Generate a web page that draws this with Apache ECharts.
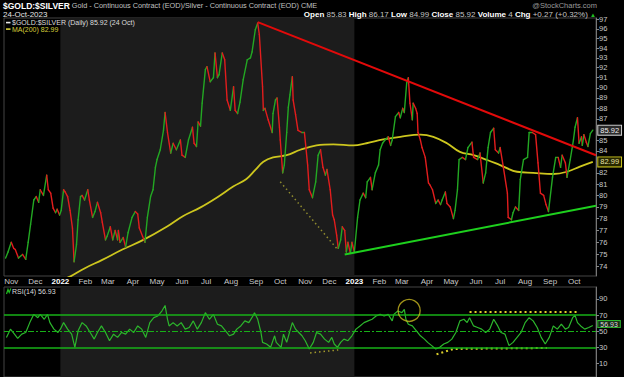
<!DOCTYPE html>
<html>
<head>
<meta charset="utf-8">
<script src="https://cdn.jsdelivr.net/npm/echarts@6/dist/echarts.min.js"></script>
<style>
html,body{margin:0;padding:0;background:#000;}
#c{width:624px;height:377px;}
</style>
</head>
<body>
<div id="c"></div>
<script>
// ---------- DATA ----------
const priceSeries = [
['2021-10-25',74.7],['2021-10-28',75.2],['2021-11-01',76.0],['2021-11-04',75.5],['2021-11-06',75.4],['2021-11-10',74.7],['2021-11-15',75.0],['2021-11-19',74.6],['2021-11-22',76.0],['2021-11-25',77.5],['2021-11-29',79.6],['2021-12-02',79.9],['2021-12-05',79.4],['2021-12-07',80.5],['2021-12-11',80.0],['2021-12-15',81.8],['2021-12-17',80.5],['2021-12-20',80.2],['2021-12-23',78.9],['2021-12-26',78.5],['2021-12-28',78.8],['2021-12-31',78.3],
['2022-01-02',78.7],['2022-01-05',80.5],['2022-01-07',80.3],['2022-01-10',79.9],['2022-01-13',78.7],['2022-01-16',77.2],['2022-01-18',74.4],['2022-01-21',75.8],['2022-01-23',77.9],['2022-01-26',79.9],['2022-01-28',80.0],['2022-01-31',79.6],['2022-02-04',80.5],['2022-02-06',79.6],['2022-02-10',78.1],['2022-02-13',78.6],['2022-02-16',79.4],['2022-02-20',78.5],['2022-02-22',77.7],['2022-02-26',76.2],['2022-02-28',76.5],['2022-03-04',77.3],['2022-03-07',76.2],['2022-03-10',77.0],['2022-03-13',76.2],['2022-03-14',77.0],['2022-03-16',76.0],['2022-03-20',76.4],['2022-03-23',75.6],['2022-03-26',76.8],['2022-03-31',78.1],['2022-04-04',78.6],['2022-04-07',78.4],['2022-04-09',77.2],['2022-04-13',76.5],['2022-04-16',76.0],['2022-04-19',78.1],['2022-04-23',79.9],['2022-04-26',80.5],['2022-04-29',82.5],['2022-05-01',83.2],['2022-05-05',84.1],['2022-05-09',85.9],['2022-05-11',87.6],['2022-05-14',85.7],['2022-05-18',83.8],['2022-05-21',84.7],['2022-05-25',84.1],['2022-05-30',85.0],['2022-06-01',83.6],['2022-06-05',83.4],['2022-06-09',85.0],['2022-06-14',86.2],['2022-06-16',84.7],['2022-06-19',84.4],['2022-06-21',86.7],['2022-06-24',86.3],['2022-06-26',88.5],['2022-06-30',91.8],['2022-07-02',92.1],['2022-07-06',90.6],['2022-07-10',91.0],['2022-07-12',93.5],['2022-07-15',91.0],['2022-07-17',91.3],['2022-07-21',93.5],['2022-07-24',92.8],['2022-07-27',88.8],['2022-07-31',87.8],['2022-08-04',90.1],['2022-08-06',87.8],['2022-08-09',87.5],['2022-08-12',88.6],['2022-08-16',90.8],['2022-08-21',92.8],['2022-08-25',93.0],['2022-08-27',93.6],['2022-08-31',95.9],['2022-09-03',96.6],['2022-09-05',95.4],['2022-09-09',90.1],['2022-09-10',87.8],['2022-09-12',88.0],['2022-09-16',86.9],['2022-09-21',85.7],['2022-09-22',87.5],['2022-09-25',88.8],['2022-09-27',89.0],['2022-09-30',86.2],['2022-10-01',85.0],['2022-10-04',82.0],['2022-10-06',82.7],['2022-10-09',85.7],['2022-10-11',88.1],['2022-10-13',89.3],['2022-10-16',91.1],['2022-10-17',88.8],['2022-10-20',87.4],['2022-10-23',85.9],['2022-10-28',85.7],['2022-10-31',85.7],['2022-11-04',82.7],['2022-11-06',80.5],['2022-11-10',79.8],['2022-11-14',81.2],['2022-11-17',83.6],['2022-11-20',84.1],['2022-11-23',82.5],['2022-11-26',81.8],['2022-11-28',82.3],['2022-12-02',80.5],['2022-12-05',78.3],['2022-12-07',77.9],['2022-12-10',76.6],['2022-12-12',75.5],['2022-12-15',76.2],['2022-12-17',77.3],['2022-12-20',77.0],['2022-12-22',75.2],['2022-12-24',76.0],['2022-12-27',75.1],['2022-12-29',76.0],
['2023-01-01',75.2],['2023-01-05',78.1],['2023-01-08',79.6],['2023-01-12',80.2],['2023-01-15',79.8],['2023-01-17',81.2],['2023-01-21',81.6],['2023-01-23',80.5],['2023-01-27',82.0],['2023-01-31',82.7],['2023-02-02',84.1],['2023-02-05',84.7],['2023-02-08',85.0],['2023-02-12',85.3],['2023-02-15',84.5],['2023-02-17',85.0],['2023-02-21',87.2],['2023-02-25',87.6],['2023-02-27',87.1],['2023-03-02',88.0],['2023-03-04',87.6],['2023-03-07',90.5],['2023-03-09',91.0],['2023-03-11',88.5],['2023-03-14',86.9],['2023-03-15',88.5],['2023-03-18',88.0],['2023-03-20',87.5],['2023-03-21',85.7],['2023-03-24',85.0],['2023-03-26',84.3],['2023-03-30',83.4],['2023-04-03',81.1],['2023-04-05',80.9],['2023-04-08',80.5],['2023-04-12',79.3],['2023-04-15',79.6],['2023-04-18',79.2],['2023-04-20',79.6],['2023-04-24',80.3],['2023-04-26',79.3],['2023-04-30',79.0],['2023-05-04',78.0],['2023-05-06',78.7],['2023-05-09',80.5],['2023-05-11',83.2],['2023-05-15',83.4],['2023-05-19',83.2],['2023-05-22',84.3],['2023-05-27',84.8],['2023-05-29',83.4],['2023-06-03',83.2],['2023-06-06',83.8],['2023-06-10',81.1],['2023-06-13',82.0],['2023-06-16',84.3],['2023-06-19',85.7],['2023-06-23',86.1],['2023-06-25',84.1],['2023-06-29',83.8],['2023-07-01',84.3],['2023-07-05',82.5],['2023-07-10',80.2],['2023-07-11',78.1],['2023-07-15',77.9],['2023-07-17',78.5],['2023-07-20',79.0],['2023-07-24',78.7],['2023-07-26',81.4],['2023-07-30',83.2],['2023-08-04',83.4],['2023-08-06',85.7],['2023-08-10',85.7],['2023-08-14',85.5],['2023-08-17',82.9],['2023-08-20',80.2],['2023-08-24',80.0],['2023-08-27',79.2],['2023-08-30',78.6],['2023-09-04',81.6],['2023-09-08',83.4],['2023-09-11',83.4],['2023-09-14',82.5],['2023-09-16',83.6],['2023-09-20',82.9],['2023-09-22',81.6],['2023-09-26',83.2],['2023-09-30',85.0],['2023-10-02',86.2],['2023-10-05',87.1],['2023-10-07',84.7],['2023-10-10',85.3],['2023-10-11',84.5],['2023-10-13',85.5],['2023-10-16',84.8],['2023-10-18',84.4],['2023-10-21',85.6],['2023-10-24',85.92]
];

const ma200Series = [
['2021-12-20',72.4],['2022-01-01',72.9],['2022-01-13',73.2],['2022-02-01',73.9],['2022-02-22',74.55],['2022-03-19',75.4],['2022-04-14',76.2],['2022-05-13',77.3],['2022-06-02',78.2],['2022-06-24',78.96],['2022-07-14',79.8],['2022-08-04',80.8],['2022-08-20',81.45],['2022-08-31',82.26],['2022-09-10',83.0],['2022-09-22',83.4],['2022-10-09',83.6],['2022-10-26',84.1],['2022-11-15',84.5],['2022-12-06',84.6],['2022-12-31',84.5],['2023-01-16',84.7],['2023-02-06',85.05],['2023-02-27',85.3],['2023-03-24',85.5],['2023-04-09',85.3],['2023-04-26',84.7],['2023-05-12',83.9],['2023-05-29',83.6],['2023-06-15',83.16],['2023-07-01',82.7],['2023-07-22',82.1],['2023-08-11',82.0],['2023-09-05',81.9],['2023-09-22',82.1],['2023-10-08',82.56],['2023-10-24',82.99]
];

const rsiSeries = [
['2021-10-26',42.3],['2021-10-31',52.5],['2021-11-05',46.3],['2021-11-09',41],['2021-11-14',46.3],['2021-11-19',48.4],['2021-11-24',60.6],['2021-11-29',70.8],['2021-12-04',66.7],['2021-12-07',70.8],['2021-12-12',64.7],['2021-12-16',70.8],['2021-12-19',60.6],['2021-12-24',52.5],['2021-12-29',48.4],
['2022-01-01',52.5],['2022-01-05',60.6],['2022-01-10',52.5],['2022-01-15',46.3],['2022-01-19',30],['2022-01-23',50.4],['2022-01-28',60.6],['2022-02-02',56.5],['2022-02-07',48.4],['2022-02-12',40.2],['2022-02-16',48.4],['2022-02-21',56.5],['2022-02-26',48.4],['2022-03-03',38.2],['2022-03-08',46.3],['2022-03-13',42.3],['2022-03-18',48.4],['2022-03-23',46.3],['2022-03-28',52.5],['2022-04-02',48.4],['2022-04-07',56.5],['2022-04-12',52.5],['2022-04-17',42.3],['2022-04-22',60.6],['2022-04-27',66.7],['2022-05-02',68.8],['2022-05-07',74.9],['2022-05-11',81.8],['2022-05-14',64.7],['2022-05-16',56.5],['2022-05-21',60.6],['2022-05-26',56.5],['2022-05-31',60.6],['2022-06-05',52.5],['2022-06-10',54.5],['2022-06-15',62.7],['2022-06-20',52.5],['2022-06-25',60.6],['2022-06-30',72.9],['2022-07-05',64.7],['2022-07-10',70.8],['2022-07-15',58.6],['2022-07-20',56.5],['2022-07-25',50.4],['2022-07-30',44.3],['2022-08-04',46.3],['2022-08-08',52.5],['2022-08-13',56.5],['2022-08-18',62.7],['2022-08-23',60.6],['2022-08-28',68.8],['2022-08-30',72.9],['2022-09-03',64.7],['2022-09-07',48.4],['2022-09-09',36.1],['2022-09-14',34.1],['2022-09-19',30],['2022-09-24',44.3],['2022-09-26',36.1],['2022-10-02',30],['2022-10-05',46.3],['2022-10-09',36.1],['2022-10-13',50.4],['2022-10-16',60.6],['2022-10-20',52.5],['2022-10-24',48.4],['2022-10-28',44.3],['2022-11-01',38.2],['2022-11-06',28],['2022-11-11',36.1],['2022-11-15',48.4],['2022-11-20',46.3],['2022-11-25',40.2],['2022-11-30',36.1],['2022-12-04',42.3],['2022-12-07',34.1],['2022-12-11',30],['2022-12-15',36.1],['2022-12-19',40.2],['2022-12-24',38.2],['2022-12-29',44.3],
['2023-01-03',52.5],['2023-01-08',56.5],['2023-01-13',60.6],['2023-01-18',62.7],['2023-01-23',64.7],['2023-01-28',68.8],['2023-02-02',70.8],['2023-02-07',68.8],['2023-02-12',70.8],['2023-02-17',62.7],['2023-02-19',70.8],['2023-02-24',74.9],['2023-03-01',72.9],['2023-03-04',77],['2023-03-06',64.7],['2023-03-09',58.6],['2023-03-14',56.5],['2023-03-19',50.4],['2023-03-24',44.3],['2023-03-29',40.2],['2023-04-02',36.1],['2023-04-07',32.1],['2023-04-12',28],['2023-04-17',30],['2023-04-22',34.1],['2023-04-27',36.1],['2023-05-02',40.2],['2023-05-07',48.4],['2023-05-12',62.7],['2023-05-17',64.7],['2023-05-21',60.6],['2023-05-24',66.7],['2023-05-29',56.5],['2023-06-03',54.5],['2023-06-08',52.5],['2023-06-13',48.4],['2023-06-18',52.5],['2023-06-23',64.7],['2023-06-28',56.5],['2023-07-02',48.4],['2023-07-07',46.3],['2023-07-12',32.1],['2023-07-17',36.1],['2023-07-22',42.3],['2023-07-27',48.4],['2023-08-01',60.6],['2023-08-06',66.7],['2023-08-11',62.7],['2023-08-16',54.5],['2023-08-21',42.3],['2023-08-26',34.1],['2023-08-31',42.3],['2023-09-05',56.5],['2023-09-10',52.5],['2023-09-15',58.6],['2023-09-20',52.5],['2023-09-24',54.5],['2023-09-29',66.7],['2023-10-02',69.6],['2023-10-05',60.6],['2023-10-09',56.5],['2023-10-14',52.5],['2023-10-19',54.5],['2023-10-24',56.93]
];

// annotations drawn on the chart
const redTrend   = [['2022-09-03',96.7],['2023-10-28',83.6]];
const greenTrend = [['2022-12-20',75.0],['2023-10-28',79.1]];
const priceDotted = [['2022-10-01',81.2],['2022-12-10',75.5]];
const rsiDottedLeft = [['2022-11-07',23.0],['2022-12-12',26.8]];
const rsiDottedLow  = [['2023-04-13',21.4],['2023-05-04',28.0],['2023-08-28',29.2]];
const rsiDottedTop  = [['2023-05-24',73.7],['2023-10-04',73.7]];
const rsiCircle     = [['2023-03-10',75.7]];

const priceTicks = [74,75,76,77,78,79,80,81,82,84,85,87,88,89,90,91,92,93,94,95,96,97];
const rsiTicks = [10,30,50,70,90];
const rsiLevels = [70,50,30];
const monthTicks = ['2021-11-01','2021-12-01','2022-01-01','2022-02-01','2022-03-01','2022-04-01','2022-05-01','2022-06-01','2022-07-01','2022-08-01','2022-09-01','2022-10-01','2022-11-01','2022-12-01','2023-01-01','2023-02-01','2023-03-01','2023-04-01','2023-05-01','2023-06-01','2023-07-01','2023-08-01','2023-09-01','2023-10-01'];
const monthLabels = ['Nov','Dec','2022','Feb','Mar','Apr','May','Jun','Jul','Aug','Sep','Oct','Nov','Dec','2023','Feb','Mar','Apr','May','Jun','Jul','Aug','Sep','Oct'];
const shadeRange = ['2022-01-01','2023-01-01'];
const xRange = ['2021-10-23','2023-10-28'];
const priceRange = [73.25, 97.14];
const rsiRange = [-6.7, 104.65];
const quote = {open:'85.83', high:'86.17', low:'84.99', close:'85.92', volume:'4', chg:'+0.27 (+0.32%)', date:'24-Oct-2023', shortDate:'24 Oct'};

// ---------- CHART ----------
const F = 'Liberation Sans, Arial, sans-serif';
const ts = s => { const p = s.split('-').map(Number); return Date.UTC(p[0], p[1]-1, p[2]); };
const L = Math.log;
const toPrice = arr => arr.map(d => [ts(d[0]), L(d[1])]);
const toRsi = arr => arr.map(d => [ts(d[0]), d[1]]);

const labelMap = new Map();
monthTicks.forEach((m, i) => labelMap.set(ts(m), monthLabels[i]));

const segData = [];
for (let i = 1; i < priceSeries.length; i++) {
  const a = priceSeries[i-1], b = priceSeries[i];
  segData.push([ts(a[0]), L(a[1]), ts(b[0]), L(b[1]), b[1] >= a[1] ? 1 : 0]);
}
const lastP = priceSeries[priceSeries.length-1];
const lastMA = ma200Series[ma200Series.length-1];
const lastR = rsiSeries[rsiSeries.length-1];

const GREEN = '#23a823', RED = '#e21d1d';
const chart = echarts.init(document.getElementById('c'), null, {renderer: 'svg', width: 624, height: 377});

const baseTS = (size, lh, extra) => Object.assign({fontSize: size, lineHeight: lh, fontWeight: 'normal', fontFamily: F}, extra || {});
const yLabelStyle = {color: '#c8c8c8', fontSize: 7.5, fontFamily: F, margin: 3};
const option = {
  backgroundColor: '#000',
  animation: false,
  textStyle: {fontFamily: F},
  title: [
    {left: 3, top: 0, padding: 0, text: '{a|$GOLD:$SILVER} {b|Gold - Continuous Contract (EOD)/Silver - Continuous Contract (EOD) CME}',
     textStyle: baseTS(7, 11, {color: '#c0c0c0', rich: {
        a: {fontSize: 8.5, fontWeight: 'bold', color: '#ffffff', fontFamily: F, lineHeight: 11},
        b: {fontSize: 7.3, fontWeight: 'normal', color: '#c0c0c0', fontFamily: F, lineHeight: 11}}})},
    {left: 3, top: 9.5, padding: 0, text: quote.date, textStyle: baseTS(8, 10, {color: '#e6e6e6'})},
    {right: 28, top: 9.5, padding: 0,
     text: '{l|Open} {v|' + quote.open + '} {l|High} {v|' + quote.high + '} {l|Low} {v|' + quote.low + '} {l|Close} {v|' + quote.close + '} {l|Volume} {v|' + quote.volume + '} {l|Chg} {v|' + quote.chg + '} {g|▲}',
     textStyle: baseTS(8, 10, {color: '#c4c4c4', rich: {
        l: {fontSize: 8, fontWeight: 'bold', color: '#ffffff', fontFamily: F, lineHeight: 10},
        v: {fontSize: 8, fontWeight: 'normal', color: '#c4c4c4', fontFamily: F, lineHeight: 10},
        g: {fontSize: 6, fontWeight: 'normal', color: '#22c022', fontFamily: F, lineHeight: 10}}})},
    {right: 27, top: 1, padding: 0, text: '@StockCharts.com', textStyle: baseTS(7.5, 9, {color: '#9a9a9a'})},
    {left: 12, top: 18, padding: 0, text: '$GOLD:$SILVER (Daily) ' + lastP[1].toFixed(2) + ' (' + quote.shortDate + ')',
     textStyle: baseTS(7, 9, {color: '#dcdcdc'})},
    {left: 12, top: 24.5, padding: 0, text: 'MA(200) ' + lastMA[1].toFixed(2), textStyle: baseTS(7, 9, {color: '#d6cf3a'})},
    {left: 12, top: 286.5, padding: 0, text: 'RSI(14) ' + lastR[1].toFixed(2), textStyle: baseTS(7, 9, {color: '#dcdcdc'})}
  ],
  graphic: [
    {type: 'rect', shape: {x: 6, y: 21.8, width: 4.5, height: 1.6}, style: {fill: '#e8e8e8'}, silent: true},
    {type: 'rect', shape: {x: 6, y: 28.3, width: 4.5, height: 1.6}, style: {fill: '#d6cf3a'}, silent: true},
    {type: 'polyline', shape: {points: [[6.5, 294], [8, 289.5], [9.2, 292.5], [10.8, 288.5]]}, style: {stroke: '#22c022', lineWidth: 1.2, fill: null}, silent: true}
  ],
  grid: [
    {left: 4, top: 18, width: 592, height: 258, show: true, borderColor: '#444', borderWidth: 1, backgroundColor: 'transparent'},
    {left: 4, top: 287, width: 592, height: 91, show: true, borderColor: '#444', borderWidth: 1, backgroundColor: 'transparent'}
  ],
  xAxis: [
    {type: 'value', gridIndex: 0, min: ts(xRange[0]), max: ts(xRange[1]),
     axisLine: {show: false}, axisTick: {show: false}, splitLine: {show: false},
     axisLabel: {customValues: monthTicks.map(ts), formatter: v => { const t = labelMap.get(v) || ''; return /^\d{4}$/.test(t) ? '{y|' + t + '}' : t; },
                 color: '#c8c8c8', fontSize: 8, fontFamily: F, margin: 1.5,
                 rich: {y: {fontSize: 8, fontWeight: 'bold', color: '#ffffff', fontFamily: F}}}},
    {type: 'value', gridIndex: 1, min: ts(xRange[0]), max: ts(xRange[1]), show: false, splitLine: {show: false}}
  ],
  yAxis: [
    {type: 'value', gridIndex: 0, position: 'right', min: L(priceRange[0]), max: L(priceRange[1]),
     axisLine: {show: true, lineStyle: {color: '#777'}},
     axisTick: {show: true, length: 3, customValues: priceTicks.map(L), lineStyle: {color: '#888'}},
     splitLine: {show: false},
     axisLabel: Object.assign({customValues: priceTicks.map(L), formatter: v => String(Math.round(Math.exp(v)))}, yLabelStyle)},
    {type: 'value', gridIndex: 1, position: 'right', min: rsiRange[0], max: rsiRange[1],
     axisLine: {show: true, lineStyle: {color: '#777'}},
     axisTick: {show: true, length: 3, customValues: rsiTicks, lineStyle: {color: '#888'}},
     splitLine: {show: false},
     axisLabel: Object.assign({customValues: rsiTicks, lineHeight: 6, formatter: v => String(Math.round(v))}, yLabelStyle)}
  ],
  series: [
    {type: 'line', xAxisIndex: 0, yAxisIndex: 0, z: 0, silent: true, symbol: 'none', lineStyle: {opacity: 0},
     data: [[ts(shadeRange[0]), L(80)]],
     markArea: {silent: true, itemStyle: {color: '#1c1c1c'}, data: [[{xAxis: ts(shadeRange[0])}, {xAxis: ts(shadeRange[1])}]]}},
    {type: 'line', xAxisIndex: 1, yAxisIndex: 1, z: 0, silent: true, symbol: 'none', lineStyle: {opacity: 0},
     data: [[ts(shadeRange[0]), 50]],
     markArea: {silent: true, itemStyle: {color: '#1c1c1c'}, data: [[{xAxis: ts(shadeRange[0])}, {xAxis: ts(shadeRange[1])}]]}},
    // MA(200)
    {name: 'MA(200)', type: 'line', xAxisIndex: 0, yAxisIndex: 0, z: 2, silent: true, showSymbol: false, smooth: 0.4, clip: true,
     data: toPrice(ma200Series), lineStyle: {color: '#cdc61e', width: 1.8},
     markPoint: {silent: true, symbol: 'rect', symbolSize: 1, itemStyle: {color: 'rgba(0,0,0,0)'},
       data: [
        {coord: [ts(lastP[0]), L(lastP[1])], label: {show: true, position: 'right', distance: 5, formatter: lastP[1].toFixed(2), color: '#eeeeee', fontSize: 7.5, fontFamily: F, backgroundColor: '#2a2a2a', borderColor: '#d0d0d0', borderWidth: 1, padding: [1, 2, 0, 2]}},
        {coord: [ts(lastMA[0]), L(lastMA[1])], label: {show: true, position: 'right', distance: 5, formatter: lastMA[1].toFixed(2), color: '#e8e4a8', fontSize: 7.5, fontFamily: F, backgroundColor: '#262600', borderColor: '#cdc61e', borderWidth: 1, padding: [1, 2, 0, 2]}}
       ]}},
    // price line, coloured by direction
    {type: 'custom', xAxisIndex: 0, yAxisIndex: 0, z: 3, silent: true, data: segData,
     dimensions: ['x0', 'y0', 'x1', 'y1', 'up'], encode: {x: [0, 2], y: [1, 3]},
     renderItem: (params, api) => {
       const p0 = api.coord([api.value(0), api.value(1)]);
       const p1 = api.coord([api.value(2), api.value(3)]);
       return {type: 'line', shape: {x1: p0[0], y1: p0[1], x2: p1[0], y2: p1[1]},
               style: {stroke: api.value(4) ? GREEN : RED, lineWidth: 1.4, lineCap: 'round'}};
     }},
    {type: 'line', xAxisIndex: 0, yAxisIndex: 0, z: 4, silent: true, symbol: 'none', data: toPrice(redTrend), lineStyle: {color: '#e20a0a', width: 2}},
    {type: 'line', xAxisIndex: 0, yAxisIndex: 0, z: 4, silent: true, symbol: 'none', data: toPrice(greenTrend), lineStyle: {color: '#1ed01e', width: 2}},
    {type: 'line', xAxisIndex: 0, yAxisIndex: 0, z: 4, silent: true, symbol: 'none', data: toPrice(priceDotted), lineStyle: {color: '#8e8a2e', width: 1.5, type: [1.5, 3]}},
    // RSI
    {name: 'RSI(14)', type: 'line', xAxisIndex: 1, yAxisIndex: 1, z: 3, silent: true, showSymbol: false,
     data: toRsi(rsiSeries), lineStyle: {color: '#2cb62c', width: 1.2},
     markLine: {silent: true, symbol: ['none', 'none'], label: {show: false},
       data: rsiLevels.map(v => ({yAxis: v, lineStyle: {color: '#17b017', width: v === 50 ? 1 : 1.5, type: v === 50 ? [6, 2, 2, 2] : 'solid'}}))},
     markPoint: {silent: true, symbol: 'rect', symbolSize: 1, itemStyle: {color: 'rgba(0,0,0,0)'},
       data: [{coord: [ts(lastR[0]), lastR[1]], label: {show: true, position: 'right', distance: 5, offset: [0, -1.5], formatter: lastR[1].toFixed(2), color: '#dddddd', fontSize: 7, lineHeight: 6, fontFamily: F, backgroundColor: '#1a2a1a', borderColor: '#2cb62c', borderWidth: 1, padding: [0, 2, 0, 2]}}]}},
    {type: 'line', xAxisIndex: 1, yAxisIndex: 1, z: 4, silent: true, symbol: 'none', data: toRsi(rsiDottedLeft), lineStyle: {color: '#a29a2c', width: 1.5, type: [1.5, 3]}},
    {type: 'line', xAxisIndex: 1, yAxisIndex: 1, z: 4, silent: true, symbol: 'none', data: toRsi(rsiDottedLow), lineStyle: {color: '#d8cc2a', width: 2, type: [2, 3]}},
    {type: 'line', xAxisIndex: 1, yAxisIndex: 1, z: 4, silent: true, symbol: 'none', data: toRsi(rsiDottedTop), lineStyle: {color: '#e2d42a', width: 2, type: [2, 3]}},
    {type: 'scatter', xAxisIndex: 1, yAxisIndex: 1, z: 5, silent: true, symbol: 'circle', symbolSize: 22,
     data: toRsi(rsiCircle), itemStyle: {color: 'rgba(0,0,0,0)', borderColor: '#c9b820', borderWidth: 1.3}}
  ]
};
chart.setOption(option);
</script>
</body>
</html>
